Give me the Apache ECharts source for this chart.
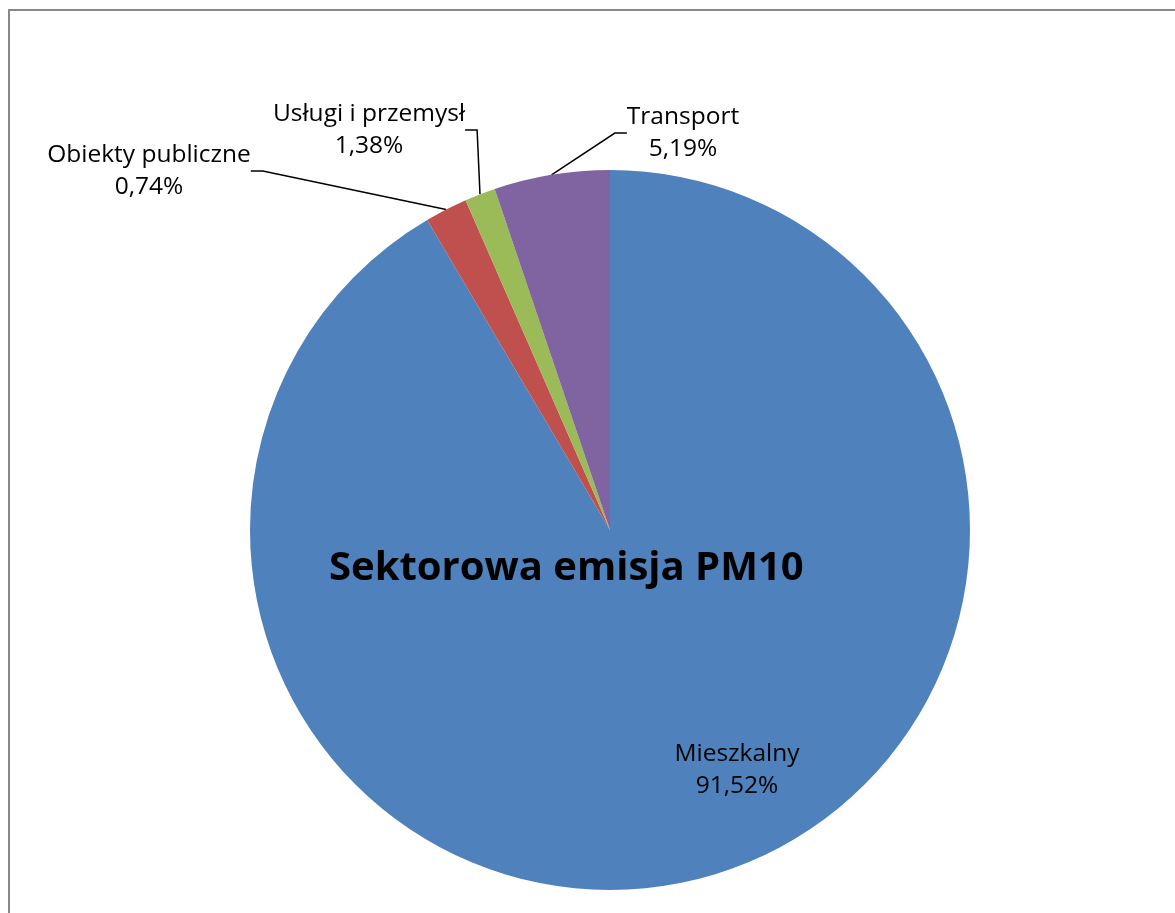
<!DOCTYPE html>
<html>
<head>
<meta charset="utf-8">
<script src="https://cdn.jsdelivr.net/npm/echarts@6/dist/echarts.min.js"></script>
<style>
  html, body { margin: 0; padding: 0; background: #fff; }
  #frame { width: 1175px; height: 913px; }
</style>
</head>
<body>
<div id="frame"></div>
<script>
// dane
const categories = ['Mieszkalny', 'Obiekty publiczne', 'Usługi i przemysł', 'Transport'];
// wielkosc wycinkow
const sliceValues = [91.52, 1.91, 1.38, 5.19];
// procenty wypisane na etykietach
const labelPercents = ['91,52%', '0,74%', '1,38%', '5,19%'];
const colors = ['#4F81BD', '#C0504D', '#9BBB59', '#8064A2'];

const labelPos = [
  { x: 737, y: 770 },
  { x: 149, y: 171 },
  { x: 369, y: 130 },
  { x: 683, y: 133 }
];

const chart = echarts.init(document.getElementById('frame'), null, { renderer: 'canvas' });

const option = {
  backgroundColor: '#fff',
  animation: false,
  title: {
    text: 'Sektorowa emisja PM10',
    left: 324,
    top: 544,
    textStyle: {
      fontFamily: 'Open Sans',
      fontWeight: 'bold',
      fontSize: 40,
      color: '#000'
    }
  },
  graphic: [{
    type: 'rect',
    shape: { x: 9, y: 10, width: 1300, height: 1000 },
    style: { fill: 'none', stroke: '#888', lineWidth: 2 },
    silent: true
  }],
  series: [{
    type: 'pie',
    center: [610, 530],
    radius: 360,
    startAngle: 90,
    clockwise: true,
    silent: true,
    itemStyle: { borderWidth: 0 },
    label: {
      show: true,
      position: 'outside',
      fontFamily: 'Open Sans',
      fontSize: 24.5,
      lineHeight: 32,
      color: '#000',
      align: 'center',
      formatter: p => p.name + '\n' + labelPercents[p.dataIndex]
    },
    labelLine: {
      show: true,
      length: 20,
      length2: 12,
      lineStyle: { color: '#000', width: 1.5 }
    },
    labelLayout: p => ({
      x: labelPos[p.dataIndex].x,
      y: labelPos[p.dataIndex].y,
      align: 'center',
      verticalAlign: 'middle'
    }),
    data: categories.map((c, i) => ({
      name: c,
      value: sliceValues[i],
      itemStyle: { color: colors[i] },
      labelLine: { show: i !== 0 }
    }))
  }]
};

chart.setOption(option);
</script>
</body>
</html>
